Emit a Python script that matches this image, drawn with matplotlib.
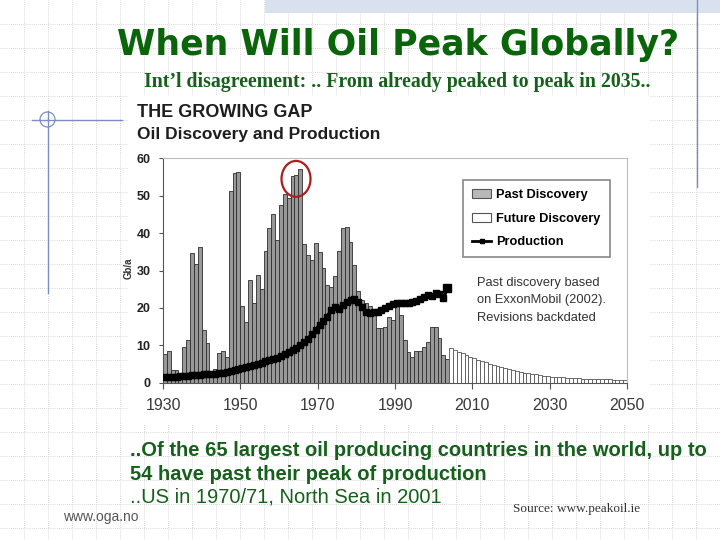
import matplotlib
matplotlib.use('Agg')
import matplotlib.pyplot as plt
from matplotlib import font_manager
from matplotlib.lines import Line2D
from matplotlib.patches import Circle, Ellipse, Patch, Rectangle
import numpy as np

past_years = list(range(1930, 2004))
past_discovery = [
    7.7, 8.6, 3.3, 3.3, 2.6, 9.6, 11.3, 34.6, 31.8, 36.4,
    14.1, 10.5, 3.0, 3.7, 7.9, 8.4, 6.8, 51.2, 56.0, 56.4,
    20.6, 16.3, 27.5, 21.4, 28.8, 25.0, 35.3, 41.3, 45.2, 38.2,
    47.4, 50.5, 49.4, 55.4, 55.6, 57.1, 37.0, 34.2, 32.9, 37.3,
    35.0, 30.6, 26.2, 25.7, 28.4, 35.1, 41.3, 41.6, 37.5, 31.5,
    24.4, 22.1, 21.3, 20.4, 19.5, 14.6, 14.6, 15.0, 17.7, 16.8,
    20.4, 18.1, 11.4, 8.3, 7.0, 8.6, 8.6, 9.6, 11.0, 15.0,
    15.0, 11.9, 7.4, 6.3,
]
future_years = list(range(2004, 2050))
future_discovery = [
    9.2, 8.7, 8.3, 7.9, 7.4, 7.0, 6.6, 6.2, 5.8, 5.5,
    5.1, 4.8, 4.5, 4.2, 3.9, 3.6, 3.4, 3.1, 2.9, 2.7,
    2.5, 2.3, 2.2, 2.0, 1.9, 1.8, 1.6, 1.5, 1.5, 1.4,
    1.3, 1.3, 1.2, 1.2, 1.1, 1.1, 1.0, 1.0, 1.0, 0.9,
    0.9, 0.9, 0.8, 0.8, 0.8, 0.8,
]
production_years = list(range(1930, 2004))
production = [
    1.4, 1.5, 1.5, 1.6, 1.7, 1.8, 1.9, 2.0, 2.0, 2.1,
    2.2, 2.3, 2.3, 2.4, 2.6, 2.7, 2.9, 3.1, 3.4, 3.6,
    3.9, 4.2, 4.5, 4.8, 5.0, 5.3, 5.7, 6.0, 6.3, 6.7,
    7.1, 7.6, 8.1, 8.7, 9.3, 10.0, 10.9, 11.8, 12.9, 14.1,
    15.5, 16.6, 17.6, 19.5, 20.3, 19.8, 20.8, 21.6, 22.0, 22.4,
    21.5, 20.2, 19.0, 18.6, 18.8, 18.9, 19.5, 19.9, 20.6, 21.0,
    21.4, 21.4, 21.3, 21.4, 21.5, 21.8, 22.3, 23.0, 23.5, 23.2,
    23.9, 23.6, 22.6, 25.2,
]
x_ticks = [1930, 1950, 1970, 1990, 2010, 2030, 2050]
y_ticks = [0, 10, 20, 30, 40, 50, 60]
legend_labels = ['Past Discovery', 'Future Discovery', 'Production']

GREEN = '#0a640a'
TEXT_GREEN = '#15601a'
LINE_BLUE = '#7c8cc4'

installed = {f.name for f in font_manager.fontManager.ttflist}
narrow = 'Liberation Sans Narrow' if 'Liberation Sans Narrow' in installed else 'Liberation Sans'
plt.rcParams['font.family'] = 'Liberation Sans'

fig = plt.figure(figsize=(7.2, 5.4), dpi=100)


def fit_width(txt, width_px):
    fig.canvas.draw()
    w = txt.get_window_extent(fig.canvas.get_renderer()).width
    txt.set_fontsize(txt.get_fontsize() * width_px / w)


# slide background, pixel coordinates
bg = fig.add_axes([0, 0, 1, 1])
bg.set_xlim(0, 720)
bg.set_ylim(540, 0)
bg.axis('off')

for gx in range(24, 720, 24):
    bg.axvline(gx, color='#cdcdcd', lw=0.6, ls=(0, (1, 1.5)), zorder=0)
for gy in range(24, 540, 24):
    bg.axhline(gy, color='#cdcdcd', lw=0.6, ls=(0, (1, 1.5)), zorder=0)

bg.add_patch(Rectangle((265, 0), 455, 13, facecolor='#dae1ee', edgecolor='none', zorder=1))
bg.plot([32, 122], [120, 120], color=LINE_BLUE, lw=1, zorder=1)
bg.plot([48, 48], [111, 293], color=LINE_BLUE, lw=1, zorder=1)
bg.add_patch(Circle((47.5, 119.5), 7.5, fill=False, edgecolor=LINE_BLUE, lw=0.9, zorder=1))
bg.plot([697, 697], [0, 187], color=LINE_BLUE, lw=1, zorder=1)

# white block behind the pasted chart
bg.add_patch(Rectangle((128, 95), 522, 330, facecolor='white', edgecolor='none', zorder=2))

title = bg.text(398, 55, 'When Will Oil Peak Globally?', ha='center', va='baseline',
                family='DejaVu Sans', weight='bold', fontsize=22, color=GREEN, zorder=3)
sub = bg.text(397, 87.5, 'Int\u2019l disagreement: .. From already peaked to peak in 2035..',
              ha='center', va='baseline', family='Liberation Serif', weight='bold',
              fontsize=13.5, color=TEXT_GREEN, zorder=3)

bg.text(137, 117, 'THE GROWING GAP', ha='left', va='baseline', weight='bold',
        fontsize=13, color='#1e1e1e', zorder=3)
bg.text(137, 139.5, 'Oil Discovery and Production', ha='left', va='baseline', weight='bold',
        fontsize=12.5, color='#1e1e1e', zorder=3)
bg.text(129, 268, 'Gb/a', ha='center', va='center', rotation=90, weight='bold',
        fontsize=7, color='#333333', zorder=3)

for i, line in enumerate(['Past discovery based', 'on ExxonMobil (2002).', 'Revisions backdated']):
    bg.text(477, 283 + 17.5 * i, line, ha='left', va='center', fontsize=9.3,
            color='#333333', zorder=3)

b1 = bg.text(130, 451, '..Of the 65 largest oil producing countries in the world, up to',
             ha='left', va='center', family=narrow, weight='bold', fontsize=14,
             color=TEXT_GREEN, zorder=3)
b2 = bg.text(130, 474, '54 have past their peak of production', ha='left', va='center',
             family=narrow, weight='bold', fontsize=14, color=TEXT_GREEN, zorder=3)
b3 = bg.text(130, 497, '..US in 1970/71, North Sea in 2001', ha='left', va='center',
             family=narrow, fontsize=14, color=TEXT_GREEN, zorder=3)
bg.text(101, 517, 'www.oga.no', ha='center', va='center', fontsize=10,
        color='#555555', zorder=3)
bg.text(577, 509, 'Source: www.peakoil.ie', ha='center', va='center',
        family='Liberation Serif', fontsize=9.5, color='#333333', zorder=3)

fit_width(title, 560)
fit_width(sub, 509)
fit_width(b1, 577)
b2.set_fontsize(b1.get_fontsize())
b3.set_fontsize(b1.get_fontsize())

# the chart itself
ax = fig.add_axes([163 / 720, 1 - 382.7 / 540, 464 / 720, 224.4 / 540])
ax.set_facecolor('none')
ax.bar(past_years, past_discovery, width=1, align='edge', color='#989898',
       edgecolor='#2e2e2e', linewidth=0.6, zorder=2)
ax.bar(future_years, future_discovery, width=1, align='edge', color='white',
       edgecolor='#555555', linewidth=0.6, zorder=2)
mid = np.array(production_years) + 0.5
ax.plot(mid, production, color='black', lw=2.5, marker='s', ms=3.8, zorder=3)
ax.plot(mid[-1], production[-1], 's', color='black', ms=6, zorder=3)

# ring round the 1960s discovery peak
late = [i for i, y in enumerate(past_years) if y > 1955]
peak_i = max(late, key=lambda i: past_discovery[i])
ax.add_patch(Ellipse((past_years[peak_i] - 0.6, past_discovery[peak_i] - 2.6), 7.5, 9.6,
                     fill=False, edgecolor='#b01c1c', lw=1.6, clip_on=False, zorder=4))

ax.set_xlim(1930, 2050)
ax.set_ylim(0, 60)
ax.set_xticks(x_ticks)
ax.set_yticks(y_ticks)
ax.tick_params(axis='x', direction='out', length=4, width=0.8, color='#555555',
               labelsize=11.5, labelcolor='#3a3a3a', pad=7)
ax.tick_params(axis='y', direction='out', length=3, width=0.8, color='#555555',
               labelsize=9, labelcolor='#222222', pad=6)
for lab in ax.get_yticklabels():
    lab.set_fontweight('bold')
for side in ['left', 'bottom']:
    ax.spines[side].set_color('#555555')
for side in ['top', 'right']:
    ax.spines[side].set_color('#bdbdbd')

handles = [
    Patch(facecolor='#b8b8b8', edgecolor='#555555', lw=0.8),
    Patch(facecolor='white', edgecolor='#555555', lw=0.8),
    Line2D([], [], color='black', lw=2, marker='s', ms=3.5),
]
leg = ax.legend(handles, legend_labels, loc='upper left', bbox_to_anchor=(0.647, 0.903),
                frameon=True, fancybox=False, edgecolor='#888888', framealpha=1,
                prop={'weight': 'bold', 'size': 9.2}, handlelength=1.5, handleheight=0.7,
                labelspacing=0.9, borderpad=0.7, handletextpad=0.4, borderaxespad=0)
leg.get_frame().set_linewidth(1.2)

fig.savefig('out.png', dpi=100)
